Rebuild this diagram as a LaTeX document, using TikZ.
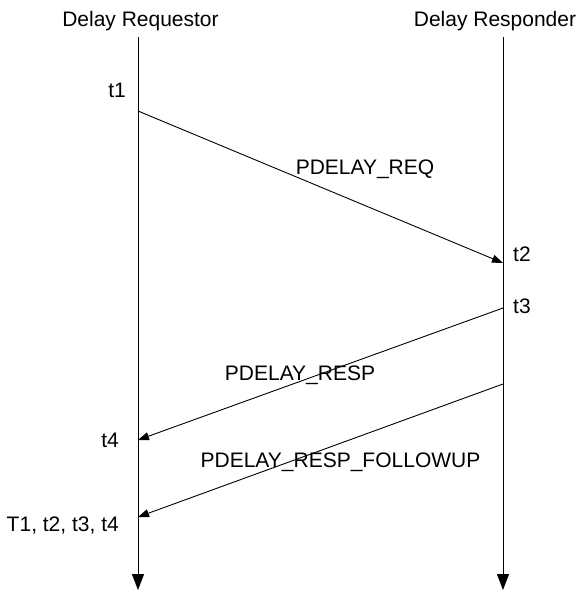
\documentclass[tikz,border=0pt]{standalone}
\usepackage{fontspec}
\setmainfont{Liberation Sans}
\usetikzlibrary{arrows.meta}
\begin{document}
\begin{tikzpicture}[x=1pt,y=-1pt,
  lbl/.style={font=\fontsize{21}{25}\selectfont, inner sep=0pt, anchor=base},
  lifeline/.style={line width=1pt, -{Triangle[length=16pt,width=12pt]}},
  msg/.style={line width=0.9pt, -{Triangle[length=11pt,width=8pt]}}]
\useasboundingbox (0,0) rectangle (580,590);
% lifelines
\coordinate (Ltop) at (138,37);
\coordinate (Lbot) at (138,590);
\coordinate (Rtop) at (503,37);
\coordinate (Rbot) at (503,590);
\draw[lifeline] (Ltop) -- (Lbot);
\draw[lifeline] (Rtop) -- (Rbot);
% headers
\node[lbl] (hreq) at (140.5,26) {Delay Requestor};
\node[lbl] (hresp) at (495,26) {Delay Responder};
% message endpoints
\coordinate (t1p) at (138,111);
\coordinate (t2p) at (503,263);
\coordinate (t3p) at (503,308);
\coordinate (t4p) at (138,440);
\coordinate (fup) at (503,384);
\coordinate (fuend) at (138,517);
\draw[msg] (t1p) -- (t2p);
\draw[msg] (t3p) -- (t4p);
\draw[msg] (fup) -- (fuend);
% labels
\node[lbl] (lreq) at (365,174) {PDELAY\_REQ};
\node[lbl] (lresp) at (300,380) {PDELAY\_RESP};
\node[lbl] (lfu) at (340.5,467) {PDELAY\_RESP\_FOLLOWUP};
\node[lbl, anchor=base east] (lt1) at (126,97) {t1};
\node[lbl, anchor=base west] (lt2) at (513,261) {t2};
\node[lbl, anchor=base west] (lt3) at (513,313) {t3};
\node[lbl, anchor=base east] (lt4) at (119,447) {t4};
\node[lbl, anchor=base east] (lall) at (119,531) {T1, t2, t3, t4};
\end{tikzpicture}
\end{document}
